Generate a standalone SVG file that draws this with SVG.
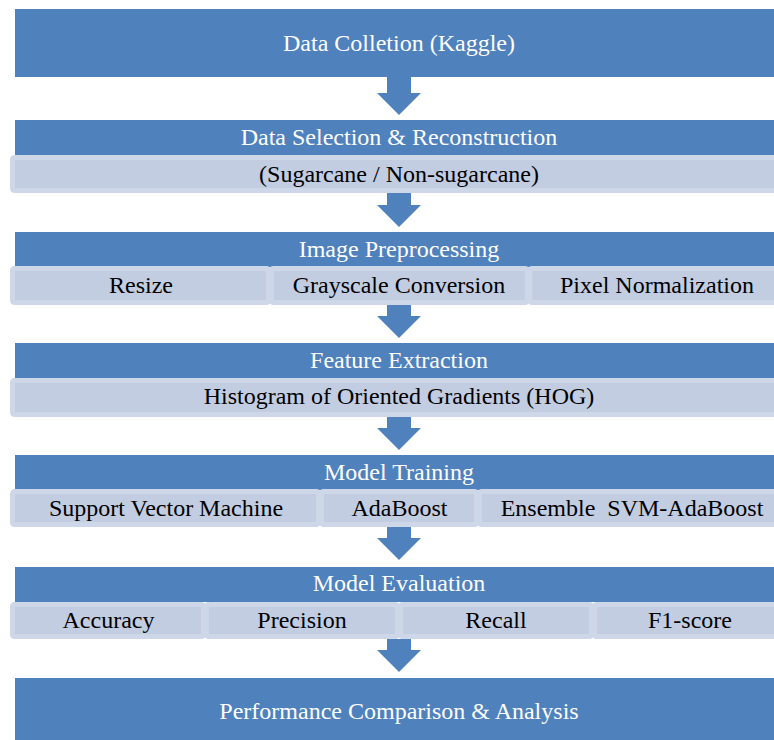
<svg xmlns="http://www.w3.org/2000/svg" width="774" height="740" viewBox="0 0 774 740">
<style>
.hd{fill:#4F81BD}
.cell{fill:#C2CDE2;stroke:#CED7E8;stroke-width:5}
.ar{fill:#4F81BD}
text{font-family:"Liberation Serif","Times New Roman",serif;font-size:24px;text-anchor:middle}
.w{fill:#FFFFFF}
.k{fill:#000000}
</style>
<rect width="774" height="740" fill="#FFFFFF"/>
<g id="connectors">
<polygon class="ar" points="387,77 411,77 411,93 421,93 399,115 377,93 387,93"/>
<polygon class="ar" points="387,193 411,193 411,205 421,205 399,227 377,205 387,205"/>
<polygon class="ar" points="387,305 411,305 411,316 421,316 399,338 377,316 387,316"/>
<polygon class="ar" points="387,417 411,417 411,428 421,428 399,450 377,428 387,428"/>
<polygon class="ar" points="387,527 411,527 411,538 421,538 399,560 377,538 387,538"/>
<polygon class="ar" points="387,639 411,639 411,650 421,650 399,672 377,650 387,650"/>
</g>
<g id="n1">
<rect class="hd" x="15" y="9" width="770" height="68"/>
<text class="w" x="399" y="51">Data Colletion (Kaggle)</text>
</g>
<g id="n2">
<rect class="hd" x="15" y="120" width="770" height="35"/>
<text class="w" x="399" y="145">Data Selection &amp; Reconstruction</text>
<rect class="cell" x="12.5" y="157.5" width="773" height="33" rx="2"/>
<text class="k" x="399" y="182">(Sugarcane / Non-sugarcane)</text>
</g>
<g id="n3">
<rect class="hd" x="15" y="232" width="770" height="35"/>
<text class="w" x="399" y="257">Image Preprocessing</text>
<rect class="cell" x="12.5" y="268.5" width="256" height="34" rx="2"/>
<rect class="cell" x="271.2" y="268.5" width="256" height="34" rx="2"/>
<rect class="cell" x="529.8" y="268.5" width="256" height="34" rx="2"/>
<text class="k" x="141" y="293">Resize</text>
<text class="k" x="399" y="293">Grayscale Conversion</text>
<text class="k" x="657" y="293">Pixel Normalization</text>
</g>
<g id="n4">
<rect class="hd" x="15" y="343" width="770" height="35"/>
<text class="w" x="399" y="368">Feature Extraction</text>
<rect class="cell" x="12.5" y="380.5" width="773" height="34" rx="2"/>
<text class="k" x="399" y="404">Histogram of Oriented Gradients (HOG)</text>
</g>
<g id="n5">
<rect class="hd" x="15" y="455" width="770" height="35"/>
<text class="w" x="399" y="480">Model Training</text>
<rect class="cell" x="12.5" y="491.5" width="306" height="33" rx="2"/>
<rect class="cell" x="321.5" y="491.5" width="155" height="33" rx="2"/>
<rect class="cell" x="479.5" y="491.5" width="306" height="33" rx="2"/>
<text class="k" x="166" y="516">Support Vector Machine</text>
<text class="k" x="399.5" y="516">AdaBoost</text>
<text class="k" x="632" y="516">Ensemble&#160; SVM-AdaBoost</text>
</g>
<g id="n6">
<rect class="hd" x="15" y="567" width="770" height="35"/>
<text class="w" x="399" y="591">Model Evaluation</text>
<rect class="cell" x="12.5" y="604.5" width="191" height="32" rx="2"/>
<rect class="cell" x="206.5" y="604.5" width="191" height="32" rx="2"/>
<rect class="cell" x="400.5" y="604.5" width="191" height="32" rx="2"/>
<rect class="cell" x="594.5" y="604.5" width="191" height="32" rx="2"/>
<text class="k" x="108.5" y="628">Accuracy</text>
<text class="k" x="302" y="628">Precision</text>
<text class="k" x="496" y="628">Recall</text>
<text class="k" x="690" y="628">F1-score</text>
</g>
<g id="n7">
<rect class="hd" x="15" y="678" width="770" height="70"/>
<text class="w" x="399" y="719">Performance Comparison &amp; Analysis</text>
</g>
</svg>
